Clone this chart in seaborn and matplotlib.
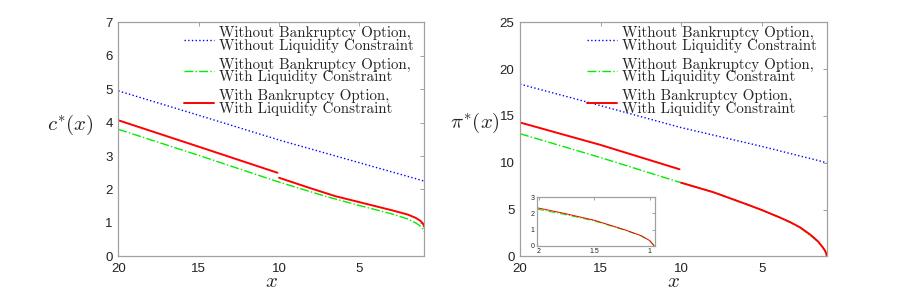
import matplotlib
matplotlib.use('Agg')
import seaborn as sns
from matplotlib import pyplot as plt

# left panel: optimal consumption c*(x)
c_blue_x = [20, 15, 10, 5, 0.96]
c_blue = [4.95, 4.22, 3.48, 2.80, 2.25]
c_green_x = [20, 15, 10, 7, 5, 3, 2, 1.5, 1.2, 1.05, 0.96]
c_green = [3.80, 3.02, 2.22, 1.78, 1.52, 1.27, 1.12, 1.00, 0.90, 0.82, 0.74]
c_red_x1 = [20, 15, 10.1]
c_red1 = [4.07, 3.28, 2.50]
c_red_x2 = [10, 8, 6.5, 5, 3, 2, 1.5, 1.2, 1.05, 0.96]
c_red2 = [2.35, 2.03, 1.80, 1.62, 1.38, 1.25, 1.15, 1.06, 0.98, 0.88]

# right panel: optimal investment pi*(x)
p_blue_x = [20, 15, 10, 5, 0.96]
p_blue = [18.4, 16.1, 13.75, 11.75, 10.0]
p_green_x = [20, 15, 10, 8, 6, 5, 3.85, 3.2, 2.6, 2.0, 1.78, 1.5, 1.23, 1.08, 1.0, 0.96]
p_green = [13.1, 10.55, 7.86, 6.85, 5.6, 4.95, 4.13, 3.62, 3.05, 2.25, 1.96, 1.54, 0.98, 0.62, 0.32, 0.0]
p_red_x1 = [20, 15, 10.1]
p_red1 = [14.3, 11.9, 9.3]
p_red_x2 = [10, 8, 6, 5, 3.85, 3.2, 2.6, 2.0, 1.78, 1.5, 1.23, 1.08, 1.0, 0.96]
p_red2 = [7.86, 6.85, 5.6, 4.95, 4.13, 3.62, 3.07, 2.33, 2.02, 1.58, 1.0, 0.63, 0.32, 0.0]

labels = ['Without Bankruptcy Option,\nWithout Liquidity Constraint',
          'Without Bankruptcy Option,\nWith Liquidity Constraint',
          'With Bankruptcy Option,\nWith Liquidity Constraint']

sns.set_style('white')
plt.rcParams['font.family'] = ['Liberation Sans', 'DejaVu Sans']
plt.rcParams['mathtext.fontset'] = 'cm'

fig = plt.figure(figsize=(9.13, 2.91), dpi=100)
ax1 = fig.add_axes([0.1296, 0.1192, 0.3352, 0.804])
ax2 = fig.add_axes([0.5696, 0.1192, 0.3360, 0.804])


def draw(ax, bx, by, gx, gy, rx1, ry1, rx2, ry2, lw_red=1.4, lw=1.0, legend=True):
    sns.lineplot(x=bx, y=by, ax=ax, color='blue', linestyle=':', linewidth=lw,
                 sort=False, estimator=None, label=labels[0] if legend else None)
    sns.lineplot(x=gx, y=gy, ax=ax, color='#00ee00', linestyle='-.', linewidth=lw,
                 sort=False, estimator=None, label=labels[1] if legend else None)
    sns.lineplot(x=rx1, y=ry1, ax=ax, color='red', linewidth=lw_red,
                 sort=False, estimator=None, label=labels[2] if legend else None)
    sns.lineplot(x=rx2, y=ry2, ax=ax, color='red', linewidth=lw_red,
                 sort=False, estimator=None)


def style(ax, ticksize=9.5):
    for sp in ax.spines.values():
        sp.set_color('#a0a0a0')
        sp.set_linewidth(0.9)
    ax.tick_params(direction='in', length=3, width=0.7, color='#a0a0a0',
                   top=True, right=True, labelsize=ticksize, labelcolor='#222222', pad=4)


draw(ax1, c_blue_x, c_blue, c_green_x, c_green, c_red_x1, c_red1, c_red_x2, c_red2)
ax1.set_xlim(20, 0.96)
ax1.set_ylim(0, 7)
ax1.set_xticks([20, 15, 10, 5])
ax1.set_yticks(range(0, 8))
ax1.set_ylabel(r'$c^{*}(x)$', rotation=0, fontsize=15)
ax1.yaxis.set_label_coords(-0.155, 0.51)
style(ax1)

draw(ax2, p_blue_x, p_blue, p_green_x, p_green, p_red_x1, p_red1, p_red_x2, p_red2)
ax2.set_xlim(20, 0.96)
ax2.set_ylim(0, 25)
ax2.set_xticks([20, 15, 10, 5])
ax2.set_yticks(range(0, 26, 5))
ax2.set_ylabel(r'$\pi^{*}(x)$', rotation=0, fontsize=15)
ax2.yaxis.set_label_coords(-0.148, 0.52)
style(ax2)

for ax in (ax1, ax2):
    ax.tick_params(axis='x', pad=5)
    ax.set_xlabel(r'$x$', fontsize=15, labelpad=-2)
    leg = ax.legend(loc='upper right', bbox_to_anchor=(0.977, 0.996), frameon=False,
                    handlelength=2.0, prop={'family': 'cmr10', 'size': 10.8},
                    handletextpad=0.35, labelspacing=0.33, borderaxespad=0.0,
                    borderpad=0.2)
    for t in leg.get_texts():
        t.set_linespacing(0.85)

# inset zoom near x = 1
ins = fig.add_axes([0.588, 0.1557, 0.1296, 0.166])
draw(ins, p_blue_x, p_blue, p_green_x, p_green, p_red_x1, p_red1, p_red_x2, p_red2,
     lw_red=0.7, lw=0.8, legend=False)
ins.set_xlim(2.02, 0.95)
ins.set_ylim(0, 3)
ins.set_xticks([2, 1.5, 1])
ins.set_xticklabels(['2', '1.5', '1'])
ins.set_yticks([0, 1, 2, 3])
style(ins, ticksize=5)
ins.tick_params(length=2, pad=1.5)

fig.savefig('out.png', dpi=100)
